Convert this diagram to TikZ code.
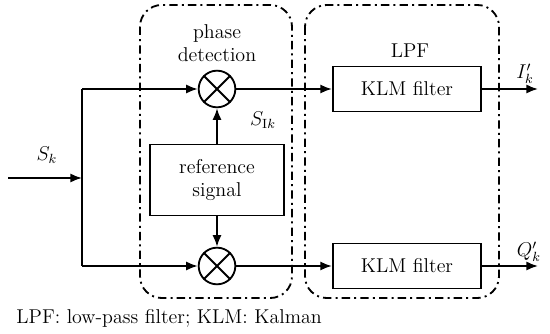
\documentclass[tikz,border=0pt]{standalone}
\usetikzlibrary{arrows.meta}

\tikzset{
  blk/.style={draw,rectangle,inner sep=0pt,align=center},
  mix/.style={draw,circle,minimum size=22pt,inner sep=0pt},
  grp/.style={dash pattern=on 5pt off 2.5pt on 1.2pt off 2.5pt,rounded corners=13pt},
  arr/.style={draw,-{Latex[length=7pt,width=5.5pt]}}
}

\begin{document}
\begin{tikzpicture}[x=0.6pt,y=-0.6pt,line width=1.1pt,font=\fontsize{12}{14}\selectfont]
\useasboundingbox (0,0) rectangle (550,334);

% dash-dot frames
\draw [grp] (140,5) rectangle (292,298);
\draw [grp] (305,5) rectangle (499,298);

\node (m1) at (217,89) [mix] {};
\node (m2) at (217,266) [mix] {};
\draw (m1.45) -- (m1.225) (m1.135) -- (m1.315);
\draw (m2.45) -- (m2.225) (m2.135) -- (m2.315);

\node (ref) at (217,180) [blk,minimum width=80pt,minimum height=42.6pt] {reference\\signal};
\node (f1) at (407,89) [blk,minimum width=89pt,minimum height=27pt] {KLM filter};
\node (f2) at (407,266) [blk,minimum width=89pt,minimum height=27pt] {KLM filter};

\coordinate (in) at (8,178);
\coordinate (sp) at (82,178);
\coordinate (up) at (82,89);
\coordinate (dn) at (82,266);
\coordinate (o1) at (538,89);
\coordinate (o2) at (538,266);

\path (in) edge[arr] (sp) (up) edge[arr] (m1) (dn) edge[arr] (m2)
  (ref) edge[arr] (m1) (ref) edge[arr] (m2) (m1) edge[arr] (f1) (m2) edge[arr] (f2)
  (f1) edge[arr] (o1) (f2) edge[arr] (o2);
\draw (up) -- (dn);

\node (sk) at (47,155) {$S_k$};
\node (sik) at (263,120) {$S_{\mathrm{I}k}$};
\node (ik) at (525,74) {$I'_k$};
\node (qk) at (529,252) {$Q'_k$};
\node (pd) at (217,43) [align=center] {phase\\detection};
\node (lpf) at (410,51) {LPF};
\node (cap) at (10,318) [anchor=west] {LPF: low-pass filter; KLM: Kalman};

\end{tikzpicture}
\end{document}
